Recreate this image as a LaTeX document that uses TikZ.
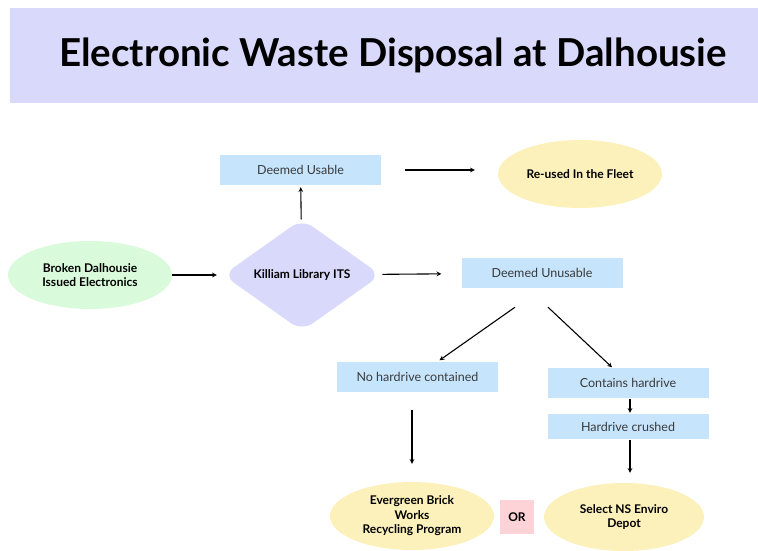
\documentclass[tikz,border=0pt]{standalone}
\usepackage{fontspec}
\setmainfont{Lato}
\usetikzlibrary{arrows,positioning,shapes.geometric}
\definecolor{lavender}{HTML}{D8D9FB}
\definecolor{paleblue}{HTML}{C6E4FC}
\definecolor{palegreen}{HTML}{D9FADB}
\definecolor{paleyellow}{HTML}{FCF0BB}
\definecolor{palepink}{HTML}{FDD3D8}
\definecolor{boxtext}{HTML}{3A3A3A}
\tikzset{
    step box/.style={rectangle,fill=paleblue,draw=none,inner sep=0pt,minimum width=161pt,minimum height=30pt,text=boxtext,font=\fontsize{12.5}{14}\selectfont},
    terminal/.style={ellipse,draw=none,inner sep=0pt,minimum width=164pt,minimum height=68pt,align=center,font=\bfseries\fontsize{12}{14.5}\selectfont},
    decision/.style={diamond,fill=lavender,draw=none,rounded corners=13pt,inner sep=0pt,minimum width=158pt,minimum height=112pt,font=\bfseries\fontsize{12}{14}\selectfont},
    pre/.style={->,line width=1.1pt,>=stealth},
    post/.style={<-,line width=1.1pt,>=stealth}
}

\begin{document}
\begin{tikzpicture}[x=1pt,y=-1pt]

                \useasboundingbox (0,0) rectangle (758,550);
                \fill[lavender] (10,8) rectangle (758,103);
                \node (title) at (393,55) {\fontsize{38.5}{44}\selectfont\bfseries Electronic Waste Disposal at Dalhousie};

                \node[terminal,fill=palegreen]  (broken)   at (90,275)  {Broken Dalhousie\\Issued Electronics};
                \node[decision]                 (killiam)  at (302,275) {Killiam Library ITS}
                    edge[post,shorten >=0pt,shorten <=6pt] (broken);
                \node[step box] (usable)   at (300.5,170) {Deemed Usable}
                    edge[post,shorten <=2pt] (killiam);
                \node[terminal,fill=paleyellow] (fleet)    at (580,174) {Re-used In the Fleet};
                \node[step box] (unusable) at (542,273) {Deemed Unusable}
                    edge[post,shorten <=20pt,shorten >=2pt] (killiam);

                \node[step box] (no drive)  at (417.5,376.5) {No hardrive contained};
                \node[step box] (has drive) at (628,382.5)   {Contains hardrive};
                \node[step box,minimum height=25pt] (crushed) at (628,426.5) {Hardrive crushed};

                \node[terminal,fill=paleyellow] (evergreen) at (412,516) {Evergreen Brick\\Works\\Recycling Program};
                \node[terminal,fill=paleyellow,minimum width=160pt] (depot) at (624,517) {Select NS Enviro\\Depot};
                \node[fill=palepink,minimum size=34pt,inner sep=0pt,font=\bfseries\fontsize{12}{14}\selectfont] (or) at (517,517) {OR};

                \draw[pre,shorten <=24pt,shorten >=23pt] (usable.east) -- (usable.east -| fleet.west);
                \draw[pre] ([xshift=-27pt,yshift=-19pt]unusable.south) -- ([xshift=22pt,yshift=1pt]no drive.north);
                \draw[pre] ([xshift=6pt,yshift=-19pt]unusable.south) -- ([xshift=-16pt]has drive.north);
                \draw[pre,shorten <=1pt,shorten >=1pt] ([xshift=2pt]has drive.south) -- ([xshift=2pt]crushed.north);
                \draw[pre,shorten <=1pt,shorten >=10pt] ([xshift=2pt]crushed.south) -- ([xshift=2pt]crushed.south |- depot.north);
                \draw[pre,shorten <=18pt,shorten >=18pt] ([xshift=-5.5pt]no drive.south) -- (evergreen.north);

            \end{tikzpicture}
\end{document}
